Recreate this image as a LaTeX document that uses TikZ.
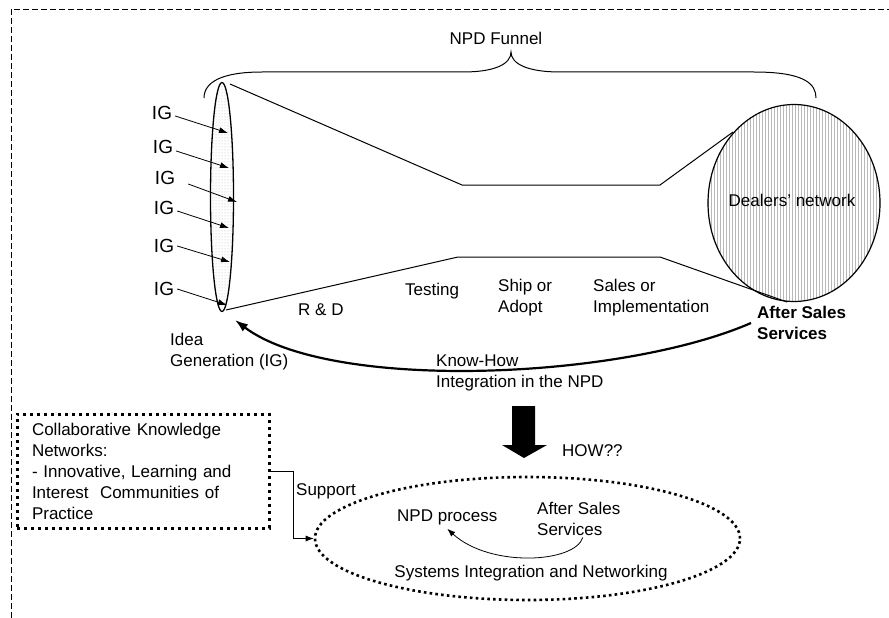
\documentclass[tikz,border=0pt]{standalone}
\usepackage{fontspec}
\setmainfont{Liberation Sans}
\usetikzlibrary{patterns,shapes.geometric,arrows.meta}
\begin{document}
\begin{tikzpicture}[x=1pt,y=-1pt,
  txt/.style={font=\fontsize{17}{21}\selectfont, inner sep=0pt, align=left},
  boldtxt/.style={font=\fontsize{17}{21}\selectfont\bfseries, inner sep=0pt, align=left},
  igtxt/.style={font=\fontsize{19}{22}\selectfont, inner sep=3pt},
  igell/.style={ellipse, draw, line width=1.3pt, minimum width=23pt, minimum height=229pt, inner sep=0pt, pattern=dots, pattern color=gray!55},
  dealer/.style={ellipse, draw, line width=1.2pt, minimum width=172pt, minimum height=197pt, inner sep=0pt, pattern=vertical lines, pattern color=gray!55},
  funnel/.style={line width=1pt},
  bracestyle/.style={line width=1pt},
  igarrow/.style={line width=0.8pt, -{Latex[length=9pt,width=6pt]}},
  bigarrow/.style={line width=2.2pt, -{Latex[length=13pt,width=9pt]}},
  smallarrow/.style={line width=0.8pt, -{Latex[length=8pt,width=6pt]}},
  thinarrow/.style={line width=0.8pt, -{Latex[length=8pt,width=6pt]}},
  dotbox/.style={draw, line width=3pt, dash pattern=on 3.3pt off 3.7pt, minimum width=252pt, minimum height=114pt, text width=222pt, inner xsep=15pt, align=left, font=\fontsize{17}{21}\selectfont},
  dotell/.style={ellipse, draw, line width=2.6pt, dash pattern=on 2.6pt off 3.2pt, minimum width=425pt, minimum height=123pt, inner sep=0pt},
  border/.style={line width=0.8pt, dash pattern=on 6pt off 3pt}]
\useasboundingbox (0,0) rectangle (889,618);

% outer dashed frame
\draw[border] (11,618) -- (11,9) -- (889,9);

% NPD funnel brace
\node[txt] (npdf) at (496,38) {NPD Funnel};
\draw[bracestyle] (204,98) .. controls (204,82) and (222,72) .. (262,72) -- (463,72)
  .. controls (495,72) and (511,64) .. (511,52)
  .. controls (511,64) and (528,72) .. (560,72) -- (754,72)
  .. controls (805,72) and (816,84) .. (816,98);

% shapes of the funnel
\node[igell] (ig) at (222,197) {};
\node[dealer] (dn) at (794,203) {};
\node[txt] (dntext) at (792,200) {Dealers' network};

\coordinate (ft0) at (230,84);
\coordinate (ft1) at (462,185);
\coordinate (ft2) at (660,185);
\coordinate (ft3) at (733,132);
\coordinate (fb0) at (226,310);
\coordinate (fb1) at (458,257);
\coordinate (fb2) at (660,257);
\coordinate (fb3) at (787,302);
\draw[funnel] (ft0) -- (ft1) -- (ft2) -- (ft3);
\draw[funnel] (fb0) -- (fb1) -- (fb2) -- (fb3);

% IG labels and arrows
\node[igtxt] (ig1) at (162,113) {IG};
\node[igtxt] (ig2) at (163,147) {IG};
\node[igtxt] (ig3) at (165,178) {IG};
\node[igtxt] (ig4) at (164,208) {IG};
\node[igtxt] (ig5) at (164,246) {IG};
\node[igtxt] (ig6) at (164,289) {IG};
\coordinate (e1) at (228,133);
\coordinate (e2) at (229,168);
\coordinate (e3) at (237,202);
\coordinate (e4) at (229,228);
\coordinate (e5) at (230,262);
\coordinate (e6) at (227,305);
\draw[igarrow] ([yshift=-3pt]ig1.east) -- (e1);
\draw[igarrow] ([yshift=-4pt]ig2.east) -- (e2);
\draw[igarrow] ([xshift=10pt,yshift=-6pt]ig3.east) -- (e3);
\draw[igarrow] ([yshift=-3pt]ig4.east) -- (e4);
\draw[igarrow] (ig5.east) -- (e5);
\draw[igarrow] (ig6.east) -- (e6);

% stage labels
\node[txt, anchor=west] (rd) at (298,310) {R \& D};
\node[txt, anchor=west] (test) at (405,291) {Testing};
\node[txt, anchor=west] (ship) at (498,298) {Ship or\\Adopt};
\node[txt, anchor=west] (sales) at (593,298) {Sales or\\Implementation};
\node[boldtxt, anchor=west] (as) at (757,323) {After Sales\\Services};
\node[txt, anchor=west] (idea) at (170,352) {Idea\\Generation (IG)};
\node[txt, anchor=west] (kh) at (436,373) {Know-How\\Integration in the NPD};

% know-how feedback arrow
\coordinate (tipig) at (235,320);
\draw[bigarrow] ([xshift=-6pt]as.west) .. controls (620,380) and (330,392) .. (tipig);

% block arrow
\fill (512,406) -- (535,406) -- (535,445) -- (547,445) -- (524,458) -- (502,445) -- (512,445) -- cycle;
\node[txt, anchor=west] (how) at (562,451) {HOW??};

% systems integration ellipse
\node[dotell] (sys) at (527.5,538.5) {};
\node[txt, anchor=west] (npdp) at (397,517) {NPD process};
\node[txt, anchor=west] (as2) at (537,518.5) {After Sales\\Services};
\node[txt] (sin) at (531,573) {Systems Integration and Networking};
\draw[smallarrow] ([xshift=4pt,yshift=-2pt]as2.south) .. controls (575,563) and (490,568) .. ([yshift=-4pt]npdp.south);

% collaborative knowledge networks box
\node[dotbox] (ckn) at (143,471) {Collaborative Knowledge\\Networks:\\- Innovative, Learning and\\Interest~ Communities of\\Practice};
\draw[thinarrow] (ckn.east) -- ++(23,0) |- (sys.west);
\node[txt, anchor=west] (sup) at (296,491) {Support};
\end{tikzpicture}
\end{document}
